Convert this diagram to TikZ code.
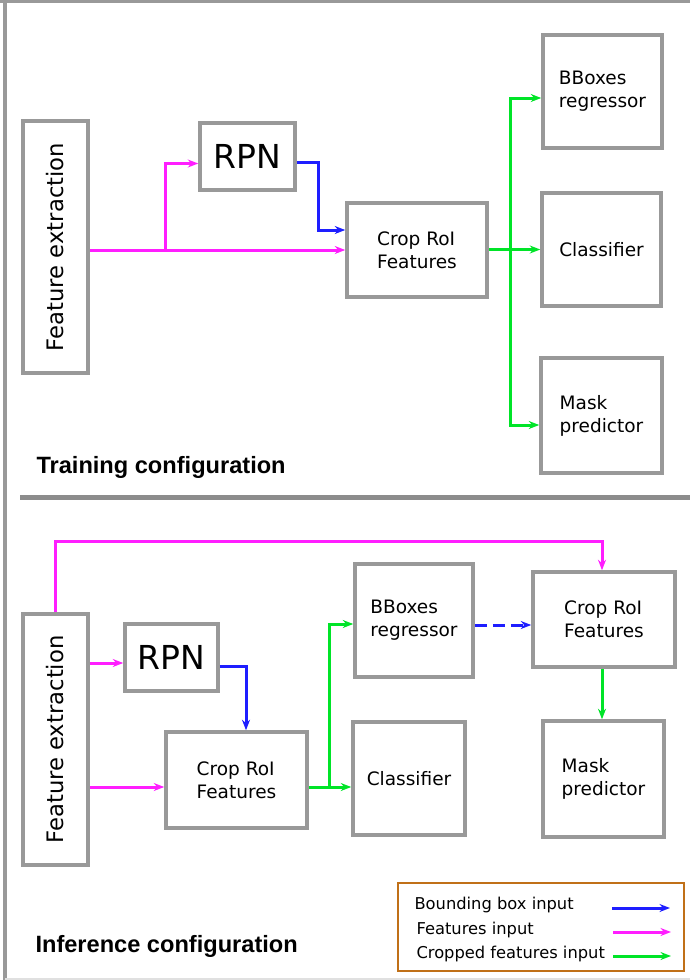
\documentclass[tikz,border=0pt]{standalone}
\usepackage{fontspec}
\setmainfont{DejaVu Sans}
\newfontfamily\titlefont{Liberation Sans}
\usetikzlibrary{arrows.meta,calc}
\definecolor{boxgray}{RGB}{153,153,153}
\definecolor{sepgray}{RGB}{140,140,140}
\definecolor{mymag}{RGB}{255,30,255}
\definecolor{myblue}{RGB}{30,30,255}
\definecolor{mygreen}{RGB}{0,228,40}
\definecolor{legbrown}{RGB}{192,112,24}
\begin{document}
\begin{tikzpicture}[x=1pt,y=-1pt,
  blk/.style={draw=boxgray,line width=3.5pt,inner sep=0pt,align=left,
    font=\fontsize{18.5}{23}\selectfont},
  bigblk/.style={blk,font=\fontsize{33}{36}\selectfont},
  fetext/.style={blk,font=\fontsize{22.7}{26}\selectfont},
  con/.style={line width=3pt,-{Stealth[length=10.5pt,width=8pt]}},
  mag/.style={con,color=mymag},
  blu/.style={con,color=myblue},
  grn/.style={con,color=mygreen},
  title/.style={anchor=base west,font=\titlefont\bfseries\fontsize{23.6}{27}\selectfont},
  legtext/.style={anchor=west,font=\fontsize{16.3}{19}\selectfont}
]
\useasboundingbox (0,0) rectangle (690,980);
% frame
\draw[boxgray,line width=4pt] (5.3,0) -- (5.3,980);
\draw[boxgray,line width=3.5pt] (0,1.7) -- (690,1.7);
\draw[black!12,line width=1.5pt] (5,979) -- (690,979);
\draw[sepgray,line width=5pt] (20,497.5) -- (690,497.5);

% ---------- Training ----------
\node[fetext,minimum width=65,minimum height=252] (fe1) at (55.5,247) {\rotatebox{90}{Feature extraction}};
\node[bigblk,minimum width=95,minimum height=67] (rpn1) at (247.5,156.5) {RPN};
\node[blk,minimum width=140,minimum height=94] (crop1) at (417,250) {Crop RoI\\Features};
\node[blk,minimum width=119,minimum height=113] (bb1) at (602.5,91.5) {BBoxes\\regressor};
\node[blk,minimum width=119,minimum height=113] (cls1) at (601.5,249.5) {Classifier};
\node[blk,minimum width=121,minimum height=115] (mask1) at (601.5,415.5) {Mask\\predictor};
\node[title] (t1) at (33,473) {Training configuration};

\draw[mag] (fe1.east |- crop1.west) -- (crop1.west);
\coordinate (b1) at (165,250);
\coordinate (r1in) at ([yshift=-7pt]rpn1.west);
\draw[mag] (b1) |- (r1in);
\coordinate (r1out) at ([yshift=-5.5pt]rpn1.east);
\coordinate (c1in) at ([yshift=20pt]crop1.west);
\draw[blu] (r1out) -- ++(22,0) |- (c1in);
\draw[grn] (crop1.east |- cls1.west) -- (cls1.west);
\coordinate (g1) at (510,253);
\draw[grn] (g1) |- ([yshift=-6.5pt]bb1.west);
\draw[grn] (g1) |- ([yshift=-9.5pt]mask1.west);

% ---------- Inference ----------
\node[fetext,minimum width=65,minimum height=251] (fe2) at (55.5,739.5) {\rotatebox{90}{Feature extraction}};
\node[bigblk,minimum width=93,minimum height=67] (rpn2) at (171.5,657.5) {RPN};
\node[blk,minimum width=141,minimum height=96] (crop2) at (236.5,780) {Crop RoI\\Features};
\node[blk,minimum width=118,minimum height=113] (bb2) at (414,620.5) {BBoxes\\regressor};
\node[blk,minimum width=112,minimum height=113] (cls2) at (409,778.5) {Classifier};
\node[blk,minimum width=142,minimum height=95] (crop3) at (604,619.5) {Crop RoI\\Features};
\node[blk,minimum width=121,minimum height=116] (mask2) at (603.5,779) {Mask\\predictor};
\node[title] (t2) at (32,952) {Inference configuration};

\draw[mag] (fe2.north) -- (fe2.north |- 0,541) -| ([xshift=-2pt]crop3.north);
\coordinate (r2in) at ([yshift=-5.5pt]rpn2.west);
\draw[mag] (r2in -| fe2.east) -- (r2in);
\coordinate (c2in) at ([yshift=-7pt]crop2.west);
\draw[mag] (c2in -| fe2.east) -- (c2in);
\coordinate (r2out) at ([yshift=-8.5pt]rpn2.east);
\draw[blu] (r2out) -| ([xshift=9.5pt]crop2.north);
\coordinate (c2out) at ([yshift=-7pt]crop2.east);
\draw[grn] (c2out) -- (c2out -| cls2.west);
\coordinate (g2) at (329,787);
\draw[grn] (g2) |- ([yshift=-3.5pt]bb2.west);
\coordinate (bb2out) at ([yshift=-4.5pt]bb2.east);
\draw[blu,dashed,dash pattern=on 12pt off 6pt] (bb2out) -- (bb2out -| crop3.west);
\draw[grn] ([xshift=-2pt]crop3.south) -- ([xshift=-2pt]crop3.south |- mask2.north);

% ---------- Legend ----------
\node[draw=legbrown,line width=2.5pt,minimum width=286,minimum height=88,inner sep=0pt] (leg) at (541,927) {};
\node[legtext] (l1) at (411,905) {Bounding box input};
\node[legtext] (l2) at (413,930) {Features input};
\node[legtext] (l3) at (413,954) {Cropped features input};
\coordinate (a1) at (612,908);
\coordinate (a2) at (613,932);
\coordinate (a3) at (613,956);
\draw[blu] (a1) -- ++(58,0);
\draw[mag] (a2) -- ++(58,0);
\draw[grn] (a3) -- ++(58,0);
\end{tikzpicture}
\end{document}
